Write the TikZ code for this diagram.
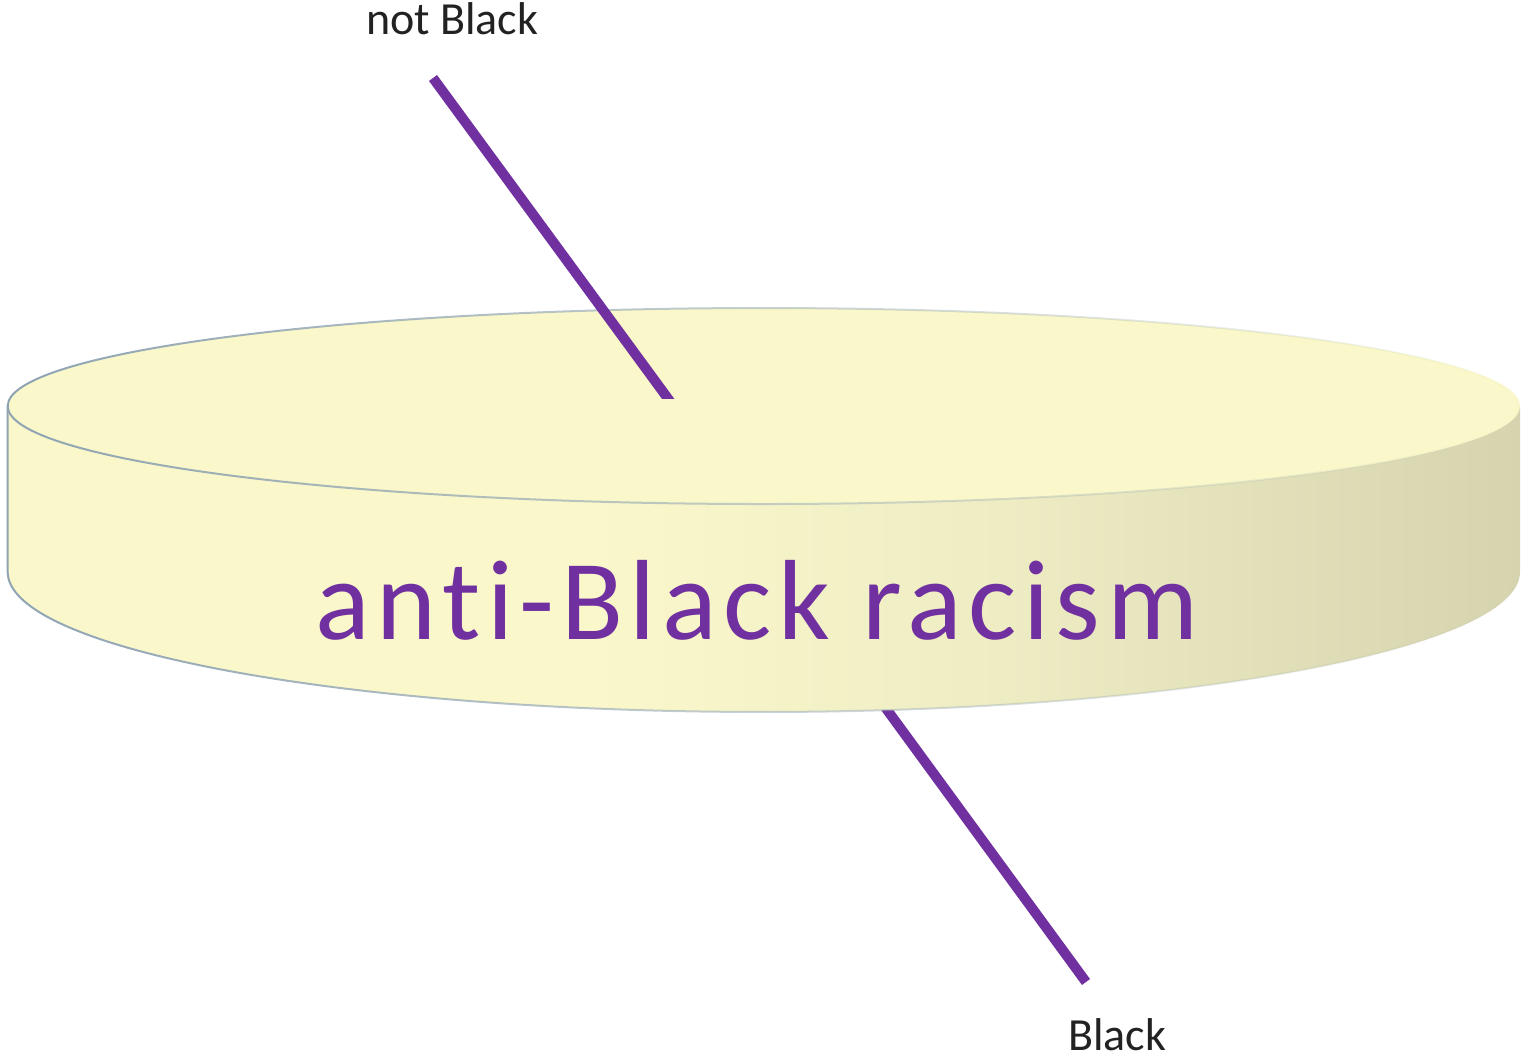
\documentclass[tikz,border=0pt]{standalone}
\usepackage{fontspec}
\setmainfont{Carlito}
\usetikzlibrary{fadings}
\definecolor{axispurple}{HTML}{7030A0}
\definecolor{disctop}{HTML}{FAF8CA}
\definecolor{discleft}{HTML}{FAF8CB}
\definecolor{discmid}{HTML}{EEECC3}
\definecolor{discright}{HTML}{D6D4AF}
\definecolor{discedge}{HTML}{8FA3B3}
\definecolor{labelgray}{HTML}{222222}
\pgfdeclarehorizontalshading{sideshade}{100bp}{color(0bp)=(discleft); color(25bp)=(discleft); color(44bp)=(discleft); color(58bp)=(discmid); color(75bp)=(discright); color(100bp)=(discright)}
\tikzfading[name=edgefade, left color=transparent!0, middle color=transparent!25, right color=transparent!100]
\tikzset{
  axisline/.style={draw=axispurple, line width=10pt, line cap=butt},
  edgeline/.style={draw=discedge, line width=2pt, path fading=edgefade},
  smalllabel/.style={text=labelgray, font=\fontsize{46}{55}\selectfont, inner sep=0pt},
  biglabel/.style={text=axispurple, font=\fontsize{114}{130}\selectfont\addfontfeature{LetterSpace=5.8,Ligatures=NoCommon}, inner sep=0pt}
}
\begin{document}
\begin{tikzpicture}[x=1pt,y=1pt]
\useasboundingbox (0,0) rectangle (1522,-1062);
% axis coordinates
\coordinate (axtop) at (433,-78);
\coordinate (axin) at (680,-415);
\coordinate (axlowin) at (836,-640);
\coordinate (axbot) at (1086,-982);
% lower axis segment (behind disc)
\draw[axisline] (axlowin) -- (axbot);
% disc side
\path[shading=sideshade] (8,-406) -- (8,-572) arc[start angle=180, end angle=360, x radius=756pt, y radius=140pt] -- (1520,-406) -- cycle;
% disc top
\fill[disctop] (764,-406) ellipse[x radius=756pt, y radius=98pt];
% outlines
\path[edgeline] (8,-406) -- (8,-572) arc[start angle=180, end angle=360, x radius=756pt, y radius=140pt] -- (1520,-406);
\path[edgeline] (764,-406) ellipse[x radius=756pt, y radius=98pt];
% upper axis segment, cut flat on the top face
\begin{scope}
\clip (0,0) rectangle (1522,-398);
\draw[axisline] (axtop) -- (axin);
\end{scope}
% labels
\node[smalllabel, anchor=base west] (notblack) at (366,-35) {not Black};
\node[smalllabel, anchor=base west] (black) at (1068,-1050) {Black};
\node[biglabel, anchor=base] (racism) at (757,-639) {anti-Black racism};
\end{tikzpicture}
\end{document}
